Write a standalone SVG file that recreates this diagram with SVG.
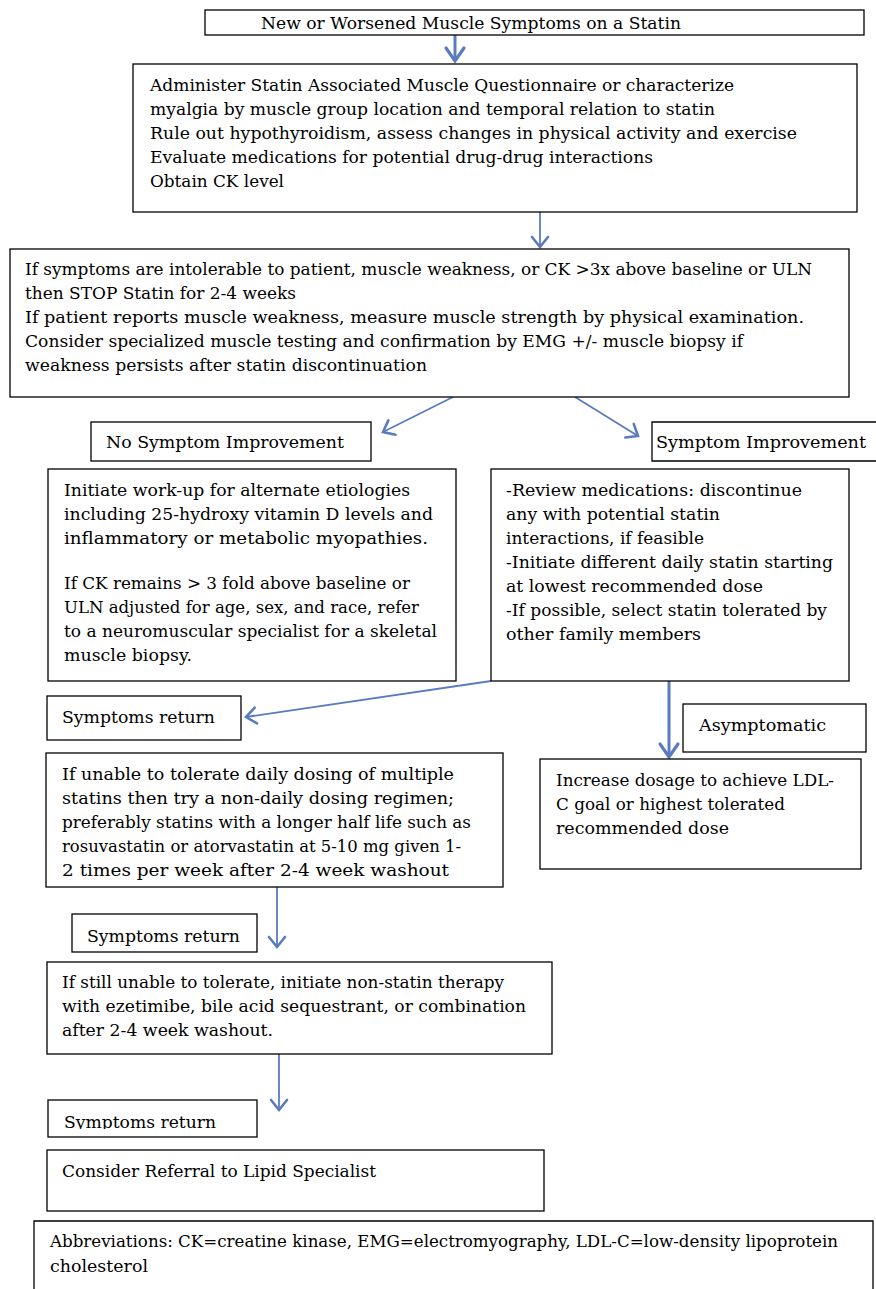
<svg xmlns="http://www.w3.org/2000/svg" width="876" height="1289" viewBox="0 0 876 1289">
<style>
.t{font-family:"DejaVu Serif","Liberation Serif",serif;font-size:17.5px;fill:#000}
.b{fill:#fff;stroke:#000;stroke-width:1.3}
.c{fill:none;stroke:#5b7bc0;stroke-width:1.8}
.k{stroke-width:3}
</style>
<defs>
<marker id="ah" markerUnits="userSpaceOnUse" markerWidth="20" markerHeight="20" viewBox="0 0 20 20" refX="14" refY="10" orient="auto">
<path d="M4,2 L14,10 L4,18" fill="none" stroke="#5b7bc0" stroke-width="2.6" stroke-linecap="round"/>
</marker>
<marker id="ahk" markerUnits="userSpaceOnUse" markerWidth="24" markerHeight="24" viewBox="0 0 24 24" refX="17" refY="12" orient="auto">
<path d="M4,3 L17,12 L4,21" fill="none" stroke="#5b7bc0" stroke-width="3.2" stroke-linecap="round"/>
</marker>
<clipPath id="clip3"><rect x="48" y="1100" width="210" height="29"/></clipPath>
</defs>
<rect width="876" height="1289" fill="#fff"/>

<g id="connectors">
<line class="c k" x1="455" y1="35" x2="455" y2="61" marker-end="url(#ahk)"/>
<line class="c" x1="540" y1="212" x2="540" y2="247" marker-end="url(#ah)"/>
<line class="c" x1="453" y1="397" x2="383" y2="432" marker-end="url(#ah)"/>
<line class="c" x1="575" y1="397" x2="638" y2="436" marker-end="url(#ah)"/>
<line class="c" x1="491" y1="681" x2="246" y2="717" marker-end="url(#ah)"/>
<line class="c k" x1="669" y1="681" x2="669" y2="757" marker-end="url(#ahk)"/>
<line class="c" x1="277" y1="887" x2="277" y2="947" marker-end="url(#ah)"/>
<line class="c" x1="279" y1="1054" x2="279" y2="1110" marker-end="url(#ah)"/>
</g>

<g id="start">
<rect class="b" x="205" y="10" width="659" height="25"/>
<text class="t" x="261" y="29" textLength="420" lengthAdjust="spacingAndGlyphs">New or Worsened Muscle Symptoms on a Statin</text>
</g>

<g id="assess">
<rect class="b" x="133" y="64" width="724" height="148"/>
<text class="t" x="150" y="91" textLength="584" lengthAdjust="spacingAndGlyphs">Administer Statin Associated Muscle Questionnaire or characterize</text>
<text class="t" x="150" y="115" textLength="565" lengthAdjust="spacingAndGlyphs">myalgia by muscle group location and temporal relation to statin</text>
<text class="t" x="150" y="139" textLength="647" lengthAdjust="spacingAndGlyphs">Rule out hypothyroidism, assess changes in physical activity and exercise</text>
<text class="t" x="150" y="163" textLength="503" lengthAdjust="spacingAndGlyphs">Evaluate medications for potential drug-drug interactions</text>
<text class="t" x="150" y="187" textLength="134" lengthAdjust="spacingAndGlyphs">Obtain CK level</text>
</g>

<g id="stop">
<rect class="b" x="10" y="249" width="839" height="148"/>
<text class="t" x="25" y="275" textLength="787" lengthAdjust="spacingAndGlyphs">If symptoms are intolerable to patient, muscle weakness, or CK &gt;3x above baseline or ULN</text>
<text class="t" x="25" y="299" textLength="271" lengthAdjust="spacingAndGlyphs">then STOP Statin for 2-4 weeks</text>
<text class="t" x="25" y="323" textLength="779" lengthAdjust="spacingAndGlyphs">If patient reports muscle weakness, measure muscle strength by physical examination.</text>
<text class="t" x="25" y="347" textLength="718" lengthAdjust="spacingAndGlyphs">Consider specialized muscle testing and confirmation by EMG +/- muscle biopsy if</text>
<text class="t" x="25" y="371" textLength="402" lengthAdjust="spacingAndGlyphs">weakness persists after statin discontinuation</text>
</g>

<g id="no-improvement">
<rect class="b" x="91" y="422" width="280" height="39"/>
<text class="t" x="106" y="448" textLength="238" lengthAdjust="spacingAndGlyphs">No Symptom Improvement</text>
</g>

<g id="improvement">
<path class="b" d="M878,422 H652 V461 H878"/>
<text class="t" x="656" y="448" textLength="210" lengthAdjust="spacingAndGlyphs">Symptom Improvement</text>
</g>

<g id="workup">
<rect class="b" x="48" y="469" width="408" height="212"/>
<text class="t" x="64" y="496" textLength="346" lengthAdjust="spacingAndGlyphs">Initiate work-up for alternate etiologies</text>
<text class="t" x="64" y="520" textLength="369" lengthAdjust="spacingAndGlyphs">including 25-hydroxy vitamin D levels and</text>
<text class="t" x="64" y="544" textLength="364" lengthAdjust="spacingAndGlyphs">inflammatory or metabolic myopathies.</text>
<text class="t" x="64" y="589" textLength="346" lengthAdjust="spacingAndGlyphs">If CK remains &gt; 3 fold above baseline or</text>
<text class="t" x="64" y="613" textLength="355" lengthAdjust="spacingAndGlyphs">ULN adjusted for age, sex, and race, refer</text>
<text class="t" x="64" y="637" textLength="373" lengthAdjust="spacingAndGlyphs">to a neuromuscular specialist for a skeletal</text>
<text class="t" x="64" y="661" textLength="128" lengthAdjust="spacingAndGlyphs">muscle biopsy.</text>
</g>

<g id="review">
<rect class="b" x="491" y="469" width="358" height="212"/>
<text class="t" x="506" y="496" textLength="296" lengthAdjust="spacingAndGlyphs">-Review medications: discontinue</text>
<text class="t" x="506" y="520" textLength="214" lengthAdjust="spacingAndGlyphs">any with potential statin</text>
<text class="t" x="506" y="544" textLength="198" lengthAdjust="spacingAndGlyphs">interactions, if feasible</text>
<text class="t" x="506" y="568" textLength="327" lengthAdjust="spacingAndGlyphs">-Initiate different daily statin starting</text>
<text class="t" x="506" y="592" textLength="257" lengthAdjust="spacingAndGlyphs">at lowest recommended dose</text>
<text class="t" x="506" y="616" textLength="321" lengthAdjust="spacingAndGlyphs">-If possible, select statin tolerated by</text>
<text class="t" x="506" y="640" textLength="195" lengthAdjust="spacingAndGlyphs">other family members</text>
</g>

<g id="return1">
<rect class="b" x="47" y="696" width="194" height="44"/>
<text class="t" x="62" y="723" textLength="153" lengthAdjust="spacingAndGlyphs">Symptoms return</text>
</g>

<g id="asymptomatic">
<rect class="b" x="683" y="704" width="183" height="48"/>
<text class="t" x="699" y="731" textLength="127" lengthAdjust="spacingAndGlyphs">Asymptomatic</text>
</g>

<g id="nondaily">
<rect class="b" x="46" y="753" width="457" height="134"/>
<text class="t" x="62" y="780" textLength="392" lengthAdjust="spacingAndGlyphs">If unable to tolerate daily dosing of multiple</text>
<text class="t" x="62" y="804" textLength="392" lengthAdjust="spacingAndGlyphs">statins then try a non-daily dosing regimen;</text>
<text class="t" x="62" y="828" textLength="409" lengthAdjust="spacingAndGlyphs">preferably statins with a longer half life such as</text>
<text class="t" x="62" y="852" textLength="399" lengthAdjust="spacingAndGlyphs">rosuvastatin or atorvastatin at 5-10 mg given 1-</text>
<text class="t" x="62" y="876" textLength="387" lengthAdjust="spacingAndGlyphs">2 times per week after 2-4 week washout</text>
</g>

<g id="increase">
<rect class="b" x="540" y="759" width="321" height="110"/>
<text class="t" x="556" y="786" textLength="278" lengthAdjust="spacingAndGlyphs">Increase dosage to achieve LDL-</text>
<text class="t" x="556" y="810" textLength="229" lengthAdjust="spacingAndGlyphs">C goal or highest tolerated</text>
<text class="t" x="556" y="834" textLength="173" lengthAdjust="spacingAndGlyphs">recommended dose</text>
</g>

<g id="return2">
<rect class="b" x="72" y="914" width="185" height="38"/>
<text class="t" x="87" y="942" textLength="153" lengthAdjust="spacingAndGlyphs">Symptoms return</text>
</g>

<g id="nonstatin">
<rect class="b" x="47" y="962" width="505" height="92"/>
<text class="t" x="62" y="988" textLength="442" lengthAdjust="spacingAndGlyphs">If still unable to tolerate, initiate non-statin therapy</text>
<text class="t" x="62" y="1012" textLength="464" lengthAdjust="spacingAndGlyphs">with ezetimibe, bile acid sequestrant, or combination</text>
<text class="t" x="62" y="1036" textLength="211" lengthAdjust="spacingAndGlyphs">after 2-4 week washout.</text>
</g>

<g id="return3">
<rect class="b" x="48" y="1100" width="209" height="37"/>
<text class="t" x="64" y="1128" textLength="152" lengthAdjust="spacingAndGlyphs" clip-path="url(#clip3)">Symptoms return</text>
</g>

<g id="referral">
<rect class="b" x="47" y="1150" width="497" height="61"/>
<text class="t" x="62" y="1177" textLength="314" lengthAdjust="spacingAndGlyphs">Consider Referral to Lipid Specialist</text>
</g>

<g id="abbreviations">
<path class="b" d="M34,1292 V1221 H873 V1292"/>
<text class="t" x="50" y="1247" textLength="788" lengthAdjust="spacingAndGlyphs">Abbreviations: CK=creatine kinase, EMG=electromyography, LDL-C=low-density lipoprotein</text>
<text class="t" x="50" y="1272" textLength="98" lengthAdjust="spacingAndGlyphs">cholesterol</text>
</g>
</svg>
